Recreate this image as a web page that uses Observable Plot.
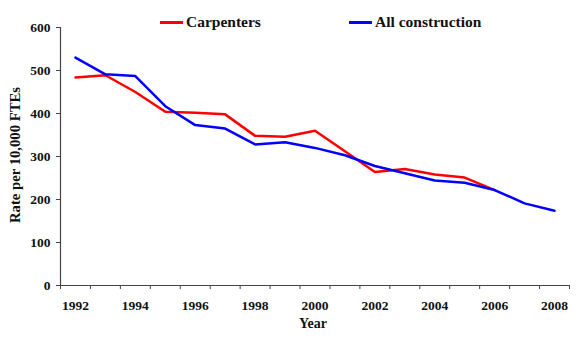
<!DOCTYPE html>
<html>
<head>
<meta charset="utf-8">
<script src="https://cdn.jsdelivr.net/npm/d3@7"></script>
<script src="https://cdn.jsdelivr.net/npm/@observablehq/plot@0.6"></script>
<style>
  body { margin: 0; background: #fff; }
  #wrap { position: relative; width: 580px; height: 337px; font-family: "Liberation Serif", "Times New Roman", serif; font-weight: bold; color: #111; }
  #wrap svg text { font-family: "Liberation Serif", "Times New Roman", serif !important; font-weight: bold !important; font-size: 13.5px !important; font-variant: normal !important; fill: #111; }
  .leg { position: absolute; top: 12px; font-size: 15.5px; line-height: 20px; white-space: nowrap; display: flex; align-items: center; }
  .sw { display: inline-block; width: 23px; height: 3px; margin-right: 3px; }
  .ytitle { position: absolute; left: 15px; top: 155px; font-size: 14.7px; white-space: nowrap; transform: translate(-50%, -50%) rotate(-90deg); }
  .xtitle { position: absolute; left: 313px; top: 324px; font-size: 14px; white-space: nowrap; transform: translate(-50%, -50%); }
</style>
</head>
<body>
<div id="wrap"></div>
<script>
const years = [1992,1993,1994,1995,1996,1997,1998,1999,2000,2001,2002,2003,2004,2005,2006,2007,2008];
const carpenters = [484,489,450,404,402,398,348,346,360,312,264,271,258,251,222];
const allConstruction = [530,491,487,417,373,365,328,333,320,303,278,261,244,239,222,191,174];
const seriesNames = ["Carpenters", "All construction"];
const seriesColors = ["#ff0000", "#0000ff"];
const yTicks = [0,100,200,300,400,500,600];
const xLabelYears = [1992,1994,1996,1998,2000,2002,2004,2006,2008];
const xBoundaries = d3.range(1991.5, 2009, 1);
const yTitle = "Rate per 10,000 FTEs";
const xTitle = "Year";

const carpData = carpenters.map((v, i) => ({year: years[i], value: v}));
const allData = allConstruction.map((v, i) => ({year: years[i], value: v}));

const axisColor = "#444";
const chart = Plot.plot({
  width: 580,
  height: 337,
  marginLeft: 60,
  marginRight: 11,
  marginTop: 27,
  marginBottom: 52,
  style: {background: "#fff"},
  x: {domain: [1991.5, 2008.5]},
  y: {domain: [0, 600]},
  marks: [
    Plot.ruleY([0], {stroke: axisColor, strokeWidth: 1.2}),
    Plot.ruleX([1991.5], {stroke: axisColor, strokeWidth: 1.2}),
    Plot.axisY({ticks: yTicks, tickSize: 4, tickPadding: 6, stroke: axisColor, label: null}),
    Plot.axisX({ticks: xBoundaries, tickSize: 4, tickFormat: () => "", stroke: axisColor, label: null}),
    Plot.axisX({ticks: xLabelYears, tickSize: 0, tickPadding: 15, tickFormat: d => String(d), label: null}),
    Plot.line(carpData, {x: "year", y: "value", stroke: seriesColors[0], strokeWidth: 2.5}),
    Plot.line(allData, {x: "year", y: "value", stroke: seriesColors[1], strokeWidth: 2.5})
  ]
});
const wrap = document.getElementById("wrap");
chart.style.position = "absolute";
chart.style.left = "0";
chart.style.top = "0";
wrap.appendChild(chart);
const legLefts = [160, 349];
seriesNames.forEach((name, i) => {
  const d = document.createElement("div");
  d.className = "leg";
  d.style.left = legLefts[i] + "px";
  const sw = document.createElement("span");
  sw.className = "sw";
  sw.style.background = seriesColors[i];
  d.appendChild(sw);
  d.appendChild(document.createTextNode(name));
  wrap.appendChild(d);
});
const yt = document.createElement("div");
yt.className = "ytitle";
yt.textContent = yTitle;
wrap.appendChild(yt);
const xt = document.createElement("div");
xt.className = "xtitle";
xt.textContent = xTitle;
wrap.appendChild(xt);
</script>
</body>
</html>
